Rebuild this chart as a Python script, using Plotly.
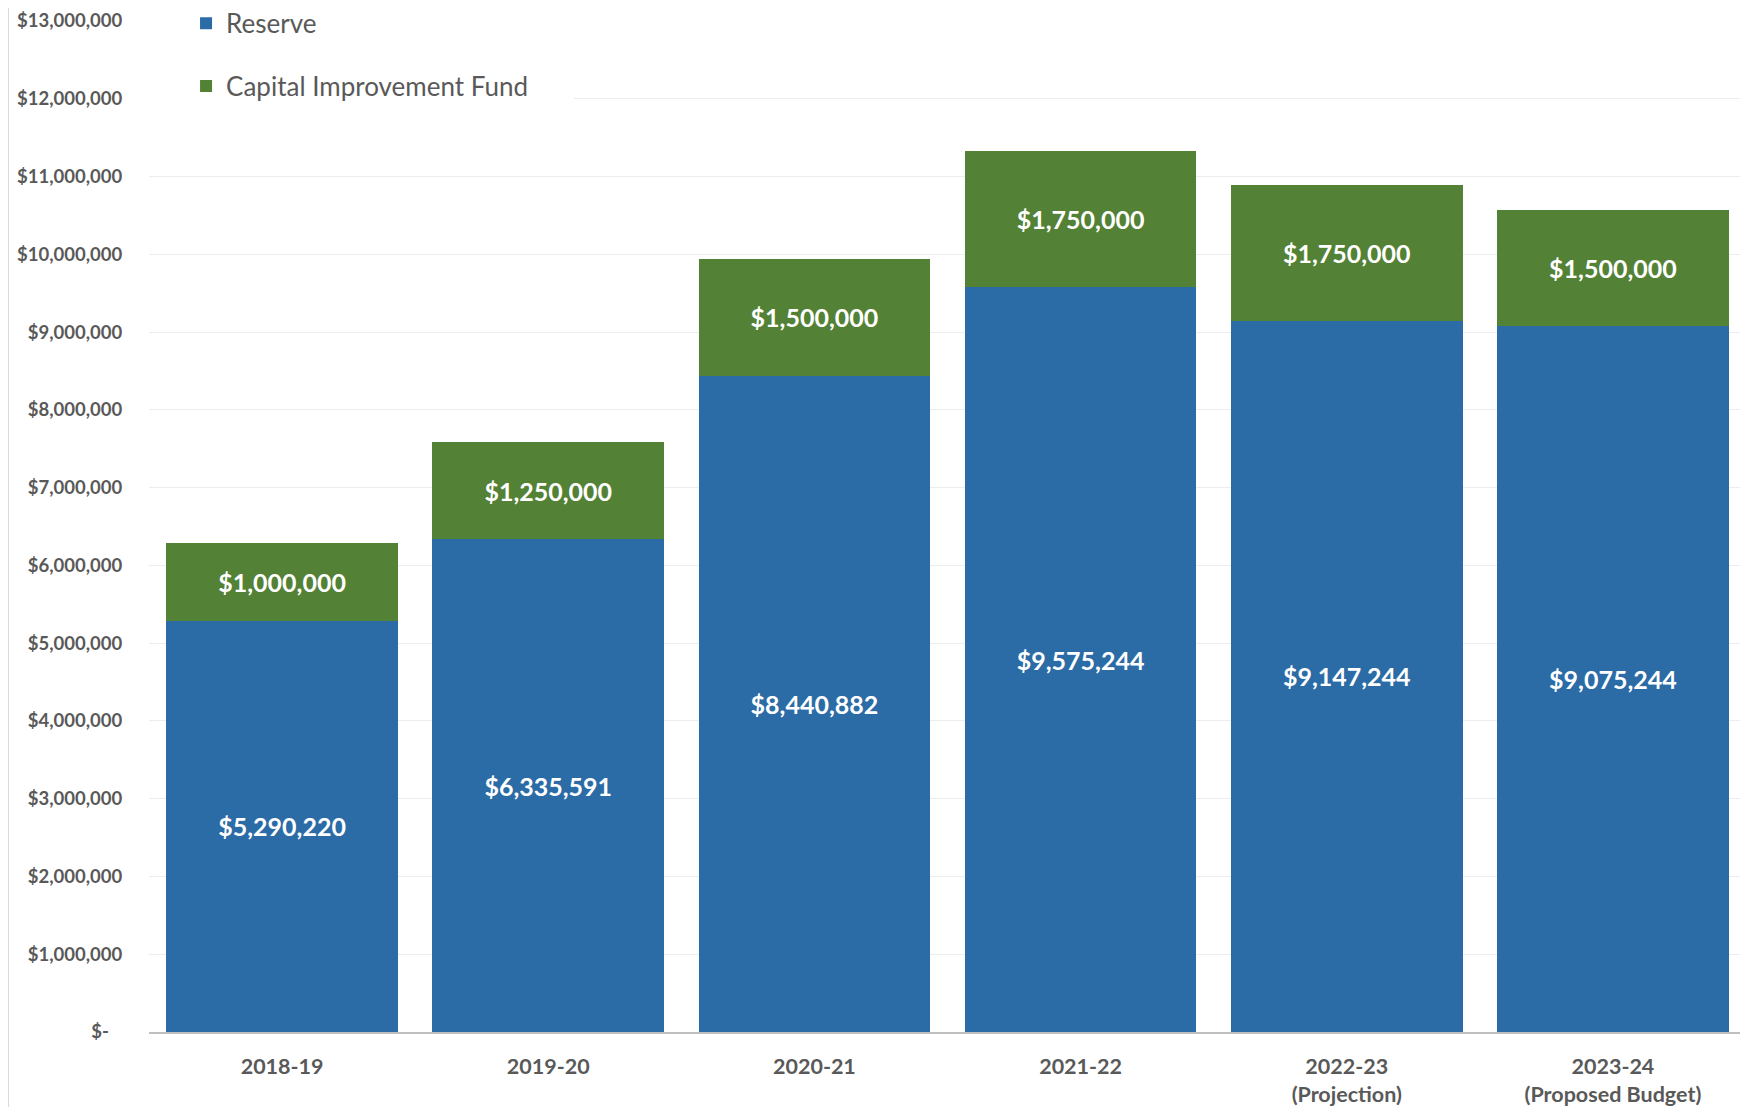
import plotly.graph_objects as go

categories = ["2018-19", "2019-20", "2020-21", "2021-22", "2022-23<br>(Projection)", "2023-24<br>(Proposed Budget)"]
reserve = [5290220, 6335591, 8440882, 9575244, 9147244, 9075244]
cif = [1000000, 1250000, 1500000, 1750000, 1750000, 1500000]
tick_vals = [0, 1000000, 2000000, 3000000, 4000000, 5000000, 6000000, 7000000,
             8000000, 9000000, 10000000, 11000000, 12000000, 13000000]
tick_text = ["$-\u00a0\u00a0\u00a0"] + [f"${v:,}" for v in tick_vals[1:]]

BLUE = "#2B6BA6"
GREEN = "#538135"
GRAY = "#595959"
FONT = "Lato, 'Open Sans', sans-serif"

fig = go.Figure()
fig.add_trace(go.Bar(
    x=categories, y=reserve, name="Reserve",
    marker=dict(color=BLUE, line=dict(width=0)),
    text=[f"${v:,}" for v in reserve], textposition="inside",
    insidetextanchor="middle", textangle=0,
    textfont=dict(color="white", size=25, family=FONT, weight="bold"),
    legendgroup="a",
))
fig.add_trace(go.Bar(
    x=categories, y=cif, name="Capital Improvement Fund",
    marker=dict(color=GREEN, line=dict(width=0)),
    text=[f"${v:,}" for v in cif], textposition="inside",
    insidetextanchor="middle", textangle=0,
    textfont=dict(color="white", size=25, family=FONT, weight="bold"),
    legendgroup="b",
))

fig.update_layout(
    barmode="stack",
    bargap=0.13,
    width=1748, height=1107,
    margin=dict(l=141, r=10, t=13, b=83, autoexpand=False),
    paper_bgcolor="white", plot_bgcolor="white",
    font=dict(family=FONT, color=GRAY),
    legend=dict(
        xref="paper", yref="paper",
        x=0.0232, y=1.021, xanchor="left", yanchor="top",
        bgcolor="white", traceorder="grouped", tracegroupgap=26,
        font=dict(size=26, color=GRAY, family=FONT),
        itemclick=False, itemdoubleclick=False,
    ),
    xaxis=dict(
        tickfont=dict(size=21.5, color=GRAY, family=FONT, weight="bold"),
        showline=True, linecolor="#BFBFBF", linewidth=1.5,
        ticks="outside", ticklen=14, tickcolor="rgba(0,0,0,0)", showgrid=False,
    ),
    yaxis=dict(
        range=[0, 13000000], tickvals=tick_vals, ticktext=tick_text,
        tickfont=dict(size=18.5, color=GRAY, family=FONT, weight="bold"),
        ticklabeloverflow="allow",
        showgrid=True, gridcolor="#EDEDED", gridwidth=1,
        zeroline=False, ticks="outside", ticklen=22, tickcolor="rgba(0,0,0,0)",
    ),
    shapes=[
        dict(type="line", xref="paper", yref="paper", x0=-0.088, x1=-0.088,
             y0=-0.1, y1=1.02, line=dict(color="#D9D9D9", width=1)),
        dict(type="rect", xref="paper", yref="paper", x0=0, x1=0.266,
             y0=0.9, y1=1.01, fillcolor="white", line=dict(width=0), layer="above"),
    ],
)

fig.write_html("out.html")
